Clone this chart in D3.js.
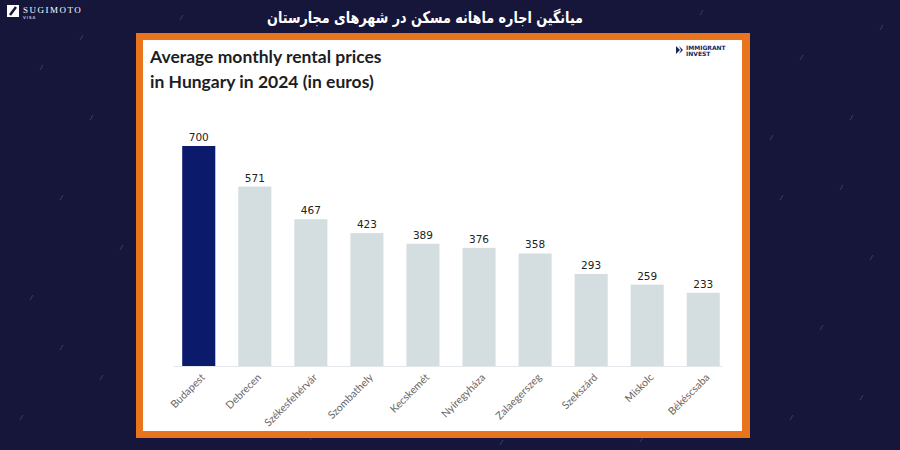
<!DOCTYPE html>
<html><head><meta charset="utf-8">
<script src="https://cdn.jsdelivr.net/npm/d3@7"></script>
<style>body{margin:0;background:#16163a;}svg{display:block}</style>
</head><body><svg id="c" width="900" height="450"></svg>
<script>
const cities = ["Budapest","Debrecen","Székesfehérvár","Szombathely","Kecskemét","Nyíregyháza","Zalaegerszeg","Szekszárd","Miskolc","Békéscsaba"];
const prices = [700,571,467,423,389,376,358,293,259,233];
const pageTitle = "میانگین اجاره ماهانه مسکن در شهرهای مجارستان";
const chartTitle = ["Average monthly rental prices","in Hungary in 2024 (in euros)"];

const svg = d3.select("#c");
svg.append("rect").attr("width",900).attr("height",450).attr("fill","#16163a");
const specks = [[40,70],[90,120],[60,200],[30,300],[100,380],[20,420],[120,250],[80,40],[800,60],[850,120],[780,200],[870,260],[820,330],[860,400],[790,420],[880,30],[770,140],[840,190],[310,440],[500,445],[640,442],[180,20],[700,15],[60,350]];
svg.selectAll("line.sp").data(specks).join("line").attr("class","sp")
  .attr("x1",d=>d[0]).attr("y1",d=>d[1]).attr("x2",d=>d[0]+3).attr("y2",d=>d[1]-5)
  .attr("stroke","#3a3a68").attr("stroke-width",1);

const lg = svg.append("g").attr("transform","translate(7,5)");
lg.append("rect").attr("width",12).attr("height",12).attr("fill","#fff");
lg.append("path").attr("d","M3,10 L9,2").attr("stroke","#16163a").attr("stroke-width",2.5);
lg.append("text").attr("x",16).attr("y",8).attr("fill","#fff").attr("font-family","Liberation Serif").attr("font-size",9).attr("letter-spacing",1.5).text("SUGIMOTO");
lg.append("text").attr("x",16).attr("y",14).attr("fill","#fff").attr("font-family","DejaVu Sans").attr("font-size",4).attr("letter-spacing",1).text("VISA");

svg.append("text").attr("x",425).attr("y",23).attr("text-anchor","middle").attr("direction","rtl")
  .attr("fill","#fff").attr("font-family","DejaVu Sans").attr("font-weight","bold").attr("font-size",16)
  .attr("textLength",316).attr("lengthAdjust","spacingAndGlyphs").text(pageTitle);

svg.append("rect").attr("x",136).attr("y",33).attr("width",614).attr("height",405).attr("fill","#e8741d");
svg.append("rect").attr("x",143).attr("y",40).attr("width",599).attr("height",391).attr("fill","#ffffff");

svg.append("g").selectAll("text").data(chartTitle).join("text")
  .attr("x",150).attr("y",(d,i)=>63+i*25).attr("fill","#1d1d24")
  .attr("font-family","Lato, Open Sans").attr("font-weight","bold").attr("font-size",17.5).text(d=>d);

const bl = svg.append("g").attr("transform","translate(676,44)");
bl.append("path").attr("d","M0,2 L4,6 L0,10 Z M3,2 L7,6 L3,10 L5,6 Z").attr("fill","#1a2560");
bl.append("text").attr("x",10).attr("y",6).attr("font-family","DejaVu Sans").attr("font-weight","bold").attr("font-size",6).attr("fill","#1a2560").text("IMMIGRANT");
bl.append("text").attr("x",10).attr("y",12).attr("font-family","DejaVu Sans").attr("font-weight","bold").attr("font-size",6).attr("fill","#1a2560").text("INVEST");

const x = d3.scaleBand().domain(cities).range([171,731]).paddingInner(0.41).paddingOuter(0.2);
const y = d3.scaleLinear().domain([0,700]).range([366,146]);

svg.append("line").attr("x1",174).attr("x2",722).attr("y1",366.5).attr("y2",366.5).attr("stroke","#e3e6ea");

svg.append("g").selectAll("rect").data(cities).join("rect")
  .attr("x",d=>x(d)).attr("width",x.bandwidth())
  .attr("y",(d,i)=>y(prices[i])).attr("height",(d,i)=>y(0)-y(prices[i]))
  .attr("fill",(d,i)=>i===0?"#0b1a6b":"#d4dee1");

svg.append("g").selectAll("text").data(cities).join("text")
  .attr("x",d=>x(d)+x.bandwidth()/2).attr("y",(d,i)=>y(prices[i])-5)
  .attr("text-anchor","middle").attr("font-family","DejaVu Sans").attr("font-size",10.5).attr("fill","#222")
  .text((d,i)=>prices[i]);

const ax = svg.append("g").attr("transform","translate(0,366)").call(d3.axisBottom(x).tickSize(0).tickPadding(0));
ax.select(".domain").remove();
ax.selectAll("text").attr("font-family","Lato, Open Sans").attr("font-size",10.5).attr("fill","#666")
  .attr("text-anchor","end").attr("dy",0)
  .attr("transform","translate(7,12) rotate(-45)");
</script></body></html>
